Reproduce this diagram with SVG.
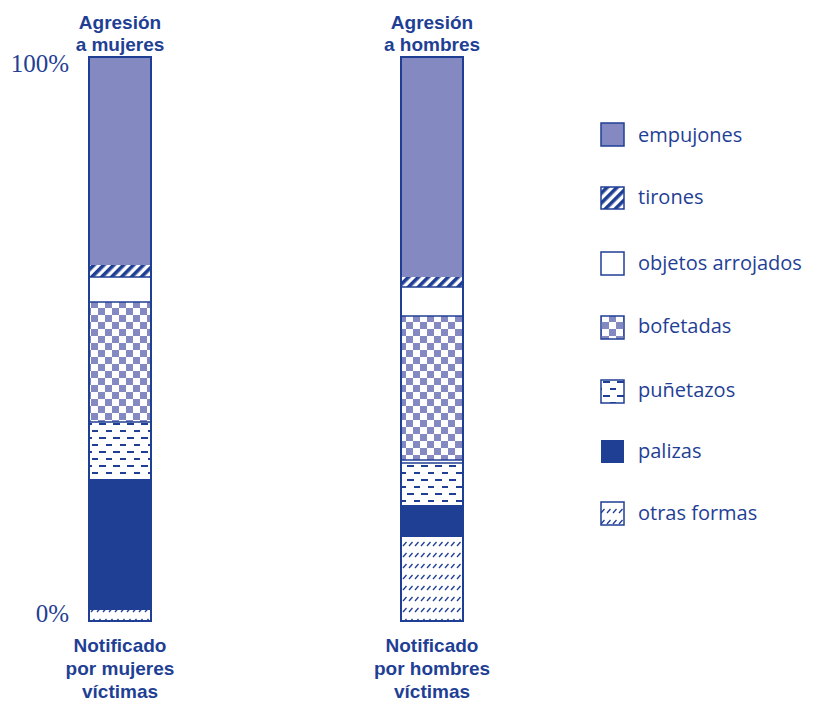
<svg xmlns="http://www.w3.org/2000/svg" width="813" height="706" viewBox="0 0 813 706">
<style>
.t{font-family:"Open Sans","Liberation Sans",sans-serif;fill:#1f3f95}
.h{font-family:"Liberation Sans",Arial,sans-serif;font-weight:bold;font-size:19px;text-anchor:middle}
.lg{font-size:20px}
.pc{font-family:"Liberation Serif",serif;fill:#1f3f95;font-size:25px;text-anchor:end}
.ol{fill:none;stroke:#1f3f95;stroke-width:2}
.sep{stroke:#1f3f95;stroke-width:1.5}
</style>
<defs>
<pattern id="pStripe" width="7" height="7" patternUnits="userSpaceOnUse" patternTransform="rotate(45)">
<rect width="7" height="7" fill="#fff"/>
<rect width="3.6" height="7" fill="#1f3f95"/>
</pattern>
<pattern id="pCheck" width="14" height="14" patternUnits="userSpaceOnUse">
<rect width="14" height="14" fill="#fff"/>
<rect x="0" y="0" width="7" height="7" fill="#8489c2"/>
<rect x="7" y="7" width="7" height="7" fill="#8489c2"/>
</pattern>
<pattern id="pDash" width="14" height="14" patternUnits="userSpaceOnUse">
<rect width="14" height="14" fill="#fff"/>
<rect x="1" y="3" width="7" height="2" fill="#1f3f95"/>
<rect x="8" y="10" width="7" height="2" fill="#1f3f95"/>
</pattern>
<pattern id="pSlash" width="6" height="11" patternUnits="userSpaceOnUse">
<rect width="6" height="11" fill="#fff"/>
<line x1="1" y1="7" x2="4.5" y2="3" stroke="#1f3f95" stroke-width="1.3"/>
</pattern>
</defs>

<g id="axis-labels">
<text class="pc" x="69" y="72">100%</text>
<text class="pc" x="69" y="622">0%</text>
</g>

<g id="bar-mujeres">
<text class="t h" x="120" y="29">Agresión</text>
<text class="t h" x="120" y="51">a mujeres</text>
<rect x="89" y="57" width="62" height="208" fill="#8489c2"/>
<rect x="89" y="265" width="62" height="12" fill="url(#pStripe)"/>
<rect x="89" y="277" width="62" height="25" fill="#fff"/>
<rect x="89" y="302" width="62" height="120" fill="url(#pCheck)"/>
<rect x="89" y="422" width="62" height="57" fill="url(#pDash)"/>
<rect x="89" y="479" width="62" height="131" fill="#1f3f95"/>
<rect x="89" y="610" width="62" height="11" fill="url(#pSlash)"/>
<line class="sep" x1="89" y1="277" x2="151" y2="277"/>
<line class="sep" x1="89" y1="302" x2="151" y2="302"/>
<line class="sep" x1="89" y1="422" x2="151" y2="422"/>
<rect class="ol" x="89" y="57" width="62" height="564"/>
<text class="t h" x="120" y="652">Notificado</text>
<text class="t h" x="120" y="675">por mujeres</text>
<text class="t h" x="120" y="698">víctimas</text>
</g>

<g id="bar-hombres">
<text class="t h" x="432" y="29">Agresión</text>
<text class="t h" x="432" y="51">a hombres</text>
<rect x="401" y="57" width="62" height="220" fill="#8489c2"/>
<rect x="401" y="277" width="62" height="10" fill="url(#pStripe)"/>
<rect x="401" y="287" width="62" height="29" fill="#fff"/>
<rect x="401" y="316" width="62" height="144" fill="url(#pCheck)"/>
<rect x="401" y="460" width="62" height="45" fill="url(#pDash)"/>
<rect x="401" y="505" width="62" height="32" fill="#1f3f95"/>
<rect x="401" y="537" width="62" height="84" fill="url(#pSlash)"/>
<line class="sep" x1="401" y1="287" x2="463" y2="287"/>
<line class="sep" x1="401" y1="316" x2="463" y2="316"/>
<line class="sep" x1="401" y1="460" x2="463" y2="460"/>
<line class="sep" x1="401" y1="463" x2="463" y2="463"/>
<rect class="ol" x="401" y="57" width="62" height="564"/>
<text class="t h" x="432" y="652">Notificado</text>
<text class="t h" x="432" y="675">por hombres</text>
<text class="t h" x="432" y="698">víctimas</text>
</g>

<g id="legend">
<g id="leg-empujones"><rect x="601" y="123" width="23" height="23" fill="#8489c2" stroke="#1f3f95" stroke-width="1.5"/><text class="t lg" x="638" y="142">empujones</text></g>
<g id="leg-tirones"><rect x="601" y="187" width="23" height="22" fill="url(#pStripe)" stroke="#1f3f95" stroke-width="1.5"/><text class="t lg" x="638" y="204">tirones</text></g>
<g id="leg-objetos"><rect x="601" y="252" width="23" height="23" fill="#fff" stroke="#1f3f95" stroke-width="1.5"/><text class="t lg" x="638" y="270">objetos arrojados</text></g>
<g id="leg-bofetadas"><rect x="601" y="316" width="23" height="23" fill="url(#pCheck)" stroke="#1f3f95" stroke-width="1.5"/><text class="t lg" x="638" y="333">bofetadas</text></g>
<g id="leg-punetazos"><rect x="601" y="380" width="23" height="23" fill="url(#pDash)" stroke="#1f3f95" stroke-width="1.5"/><text class="t lg" x="638" y="397">puñetazos</text></g>
<g id="leg-palizas"><rect x="601" y="440" width="23" height="23" fill="#1f3f95"/><text class="t lg" x="638" y="458">palizas</text></g>
<g id="leg-otras"><rect x="601" y="502" width="23" height="23" fill="url(#pSlash)" stroke="#1f3f95" stroke-width="1.5"/><text class="t lg" x="638" y="520">otras formas</text></g>
</g>
</svg>
